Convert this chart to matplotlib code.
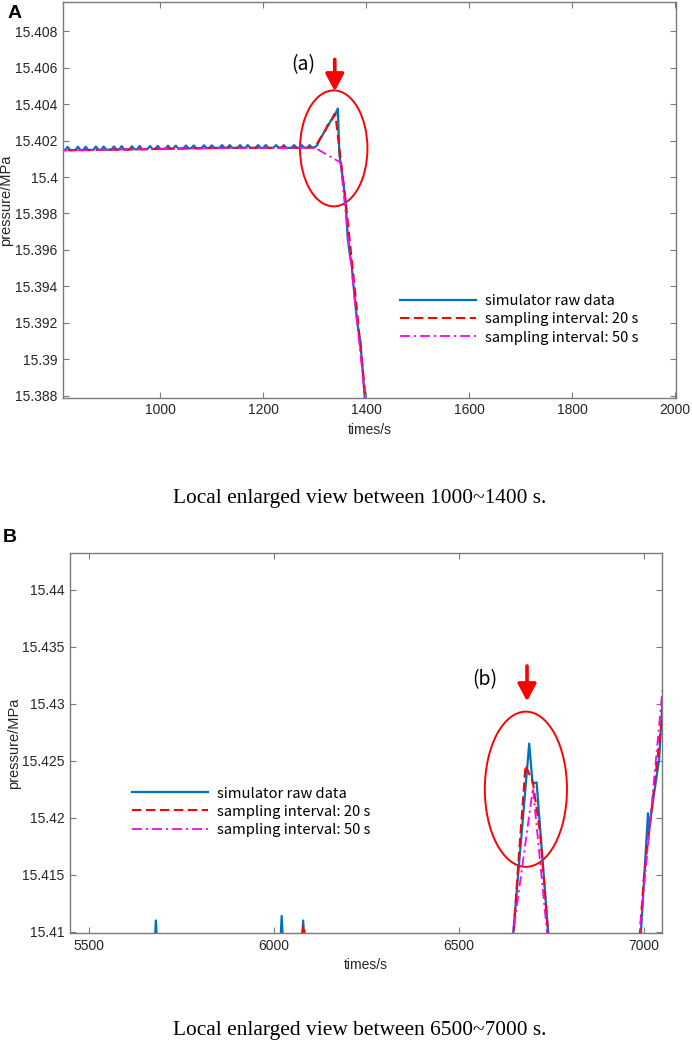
import matplotlib
matplotlib.use("Agg")
import matplotlib.pyplot as plt
from matplotlib.patches import Ellipse
from matplotlib.ticker import FuncFormatter
import numpy as np

# ---------------- panel A data (1000~1400 s) ----------------
# raw simulator data, 5 s steps over the flat part
a_raw_t_flat = np.arange(810, 1300, 5)
a_raw_p_flat = [
    15.40147, 15.40147, 15.40165, 15.40147, 15.40148, 15.40148, 15.40166, 15.40148, 15.40148, 15.40166,
    15.40148, 15.40149, 15.40149, 15.40167, 15.40149, 15.40149, 15.40167, 15.40150, 15.40150, 15.40150,
    15.40168, 15.40150, 15.40151, 15.40169, 15.40151, 15.40151, 15.40151, 15.40169, 15.40152, 15.40152,
    15.40170, 15.40152, 15.40153, 15.40153, 15.40170, 15.40153, 15.40154, 15.40171, 15.40154, 15.40155,
    15.40155, 15.40172, 15.40155, 15.40156, 15.40172, 15.40156, 15.40156, 15.40157, 15.40173, 15.40157,
    15.40158, 15.40173, 15.40158, 15.40158, 15.40159, 15.40174, 15.40159, 15.40159, 15.40174, 15.40160,
    15.40160, 15.40160, 15.40175, 15.40160, 15.40160, 15.40175, 15.40160, 15.40160, 15.40160, 15.40175,
    15.40160, 15.40160, 15.40175, 15.40160, 15.40160, 15.40160, 15.40175, 15.40160, 15.40160, 15.40175,
    15.40160, 15.40160, 15.40160, 15.40175, 15.40160, 15.40160, 15.40175, 15.40160, 15.40160, 15.40160,
    15.40175, 15.40160, 15.40160, 15.40175, 15.40160, 15.40160, 15.40175, 15.40161,
]
# raw data through the event
a_raw_t_event = [1300, 1305, 1310, 1315, 1318, 1322, 1325, 1328, 1332, 1335, 1338, 1341, 1345,
                 1348, 1352, 1356, 1360, 1364, 1368, 1372, 1373, 1378, 1382, 1387, 1389, 1390, 1394, 1398, 1402]
a_raw_p_event = [15.40162, 15.40175, 15.40205, 15.40228, 15.40245, 15.40262, 15.40285, 15.40292,
                 15.40312, 15.40325, 15.40345, 15.40350, 15.40376,
                 15.40120, 15.40050, 15.39960, 15.39870, 15.39670, 15.39580, 15.39520, 15.39480,
                 15.39330, 15.39220, 15.39120, 15.39100, 15.39050, 15.38920, 15.38760, 15.38650]

a_s20_t = np.arange(820, 1420, 20)
a_s20_p = [15.40147, 15.40148, 15.40148, 15.40149, 15.40150, 15.40150, 15.40151, 15.40152,
           15.40153, 15.40154, 15.40155, 15.40156, 15.40157, 15.40158, 15.40159, 15.40160,
           15.40160, 15.40160, 15.40160, 15.40160, 15.40160, 15.40163, 15.40160, 15.40160,
           15.40162, 15.40255, 15.40345, 15.39870, 15.39330, 15.38750]

a_s50_t = np.arange(800, 1450, 50)
a_s50_p = [15.40145, 15.40147, 15.40150, 15.40152, 15.40154, 15.40156, 15.40158,
           15.40160, 15.40160, 15.40160, 15.40161, 15.40080, 15.38730]

# ---------------- panel B data (6500~7000 s) ----------------
b_raw_t = [5450, 5673, 5681, 5689, 6013, 6021, 6029, 6071, 6079, 6087, 6640, 6690, 6699, 6710,
           6741, 6750, 6980, 6992, 7011, 7014, 7021, 7041, 7050]
b_raw_p = [15.4060, 15.4060, 15.4110, 15.4060, 15.4060, 15.4114, 15.4060, 15.4060, 15.4110, 15.4060,
           15.4073, 15.4265, 15.4230, 15.4231, 15.4100, 15.4062, 15.4062, 15.4100, 15.4204, 15.4188,
           15.4207, 15.4251, 15.4300]

b_s20_t = [5460, 6060, 6080, 6100, 6640, 6660, 6680, 6700, 6720, 6740, 6760, 6980, 7000, 7020, 7040, 7060]
b_s20_p = [15.4060, 15.4060, 15.4106, 15.4060, 15.4062, 15.4158, 15.4246, 15.4231, 15.4185, 15.4103,
           15.4060, 15.4060, 15.4148, 15.4205, 15.4262, 15.4318]

b_s50_t = [5450, 6600, 6650, 6700, 6750, 6950, 7000, 7050]
b_s50_p = [15.4060, 15.3990, 15.4107, 15.4226, 15.4060, 15.3965, 15.4138, 15.4312]

labels = ["simulator raw data", "sampling interval: 20 s", "sampling interval: 50 s"]

BLUE = "#0072BD"
RED = "#FF0000"
MAG = "#FF00FF"
GRAY = "#7a7a7a"
TXT = "#262626"
CJK = ["Noto Sans CJK SC", "DejaVu Sans"]

plt.rcParams["font.family"] = ["Liberation Sans", "DejaVu Sans"]

fig = plt.figure(figsize=(6.92, 10.44), dpi=100)
axA = fig.add_axes([0.0910, 0.6191, 0.8859, 0.3790])
axB = fig.add_axes([0.1012, 0.1063, 0.8550, 0.3640])


def trim(v, pos):
    return f"{v:.3f}".rstrip("0").rstrip(".")


def style(ax):
    for sp in ax.spines.values():
        sp.set_color(GRAY)
        sp.set_linewidth(1.0)
    ax.tick_params(direction="in", length=4, width=0.8, color=GRAY, labelcolor=TXT,
                   labelsize=10, top=True, right=True, pad=4)
    ax.yaxis.set_major_formatter(FuncFormatter(trim))


def draw(ax, rt, rp, t20, p20, t50, p50):
    ax.plot(rt, rp, color=BLUE, lw=1.6, label=labels[0])
    ax.plot(t20, p20, color=RED, lw=1.5, dashes=(4.5, 2.2), label=labels[1])
    ax.plot(t50, p50, color=MAG, lw=1.3, dashes=(5.5, 2.2, 1.2, 2.2), label=labels[2])


def legend(ax, x, y):
    ax.legend(loc="upper left", bbox_to_anchor=(x, y), frameon=False,
              prop={"family": CJK, "size": 10.6, "weight": "medium"},
              handlelength=5.2, handletextpad=0.6, labelspacing=0.28, borderaxespad=0)


def marker(ax, ex, ew, eh, ax_x, tip, tail, tx, ty, txt):
    ax.add_patch(Ellipse(ex, ew, eh, fill=False, edgecolor=RED, lw=1.4))
    ax.annotate("", xy=(ax_x, tip), xytext=(ax_x, tail),
                arrowprops=dict(arrowstyle="-|>,head_width=0.4,head_length=0.75", color=RED,
                                lw=2.6, shrinkA=0, shrinkB=0, mutation_scale=14))
    ax.text(tx, ty, txt, fontsize=14, ha="center", va="center", family=CJK,
            weight="medium", color="black")


# ---- panel A ----
draw(axA, list(a_raw_t_flat) + a_raw_t_event, a_raw_p_flat + a_raw_p_event,
     a_s20_t, a_s20_p, a_s50_t, a_s50_p)
axA.set_xlim(811, 2002)
axA.set_ylim(15.3879, 15.4096)
axA.set_xticks(np.arange(1000, 2001, 200))
axA.set_yticks(np.arange(15.388, 15.4081, 0.002))
style(axA)
axA.set_xlabel("times/s", fontsize=10, color=TXT, labelpad=4)
axA.set_ylabel("pressure/MPa", fontsize=10.5, color=TXT, labelpad=1)
marker(axA, (1337, 15.40157), 131, 0.00636, 1339, 15.40470, 15.40645, 1277, 15.40614, "(a)")
legend(axA, 0.540, 0.276)

# ---- panel B ----
draw(axB, b_raw_t, b_raw_p, b_s20_t, b_s20_p, b_s50_t, b_s50_p)
axB.set_xlim(5449, 7048)
axB.set_ylim(15.4099, 15.4432)
axB.set_xticks(np.arange(5500, 7001, 500))
axB.set_yticks(np.arange(15.41, 15.4401, 0.005))
style(axB)
axB.set_xlabel("times/s", fontsize=10, color=TXT, labelpad=4)
axB.set_ylabel("pressure/MPa", fontsize=10.5, color=TXT, labelpad=1)
marker(axB, (6681, 15.4225), 222, 0.0136, 6684, 15.4302, 15.4333, 6570, 15.4321, "(b)")
legend(axB, 0.0946, 0.401)

# panel letters and captions
fig.text(8 / 692, 1 - 14 / 1044, "A", fontsize=14, fontweight="bold", ha="left", va="center")
fig.text(3 / 692, 1 - 537 / 1044, "B", fontsize=14, fontweight="bold", ha="left", va="center")
fig.text(360 / 692, 1 - 499 / 1044, "Local enlarged view between 1000~1400 s.",
         fontsize=15.4, family="Liberation Serif", ha="center", va="center")
fig.text(360 / 692, 1 - 1031 / 1044, "Local enlarged view between 6500~7000 s.",
         fontsize=15.4, family="Liberation Serif", ha="center", va="center")

fig.savefig("out.png", dpi=100)
